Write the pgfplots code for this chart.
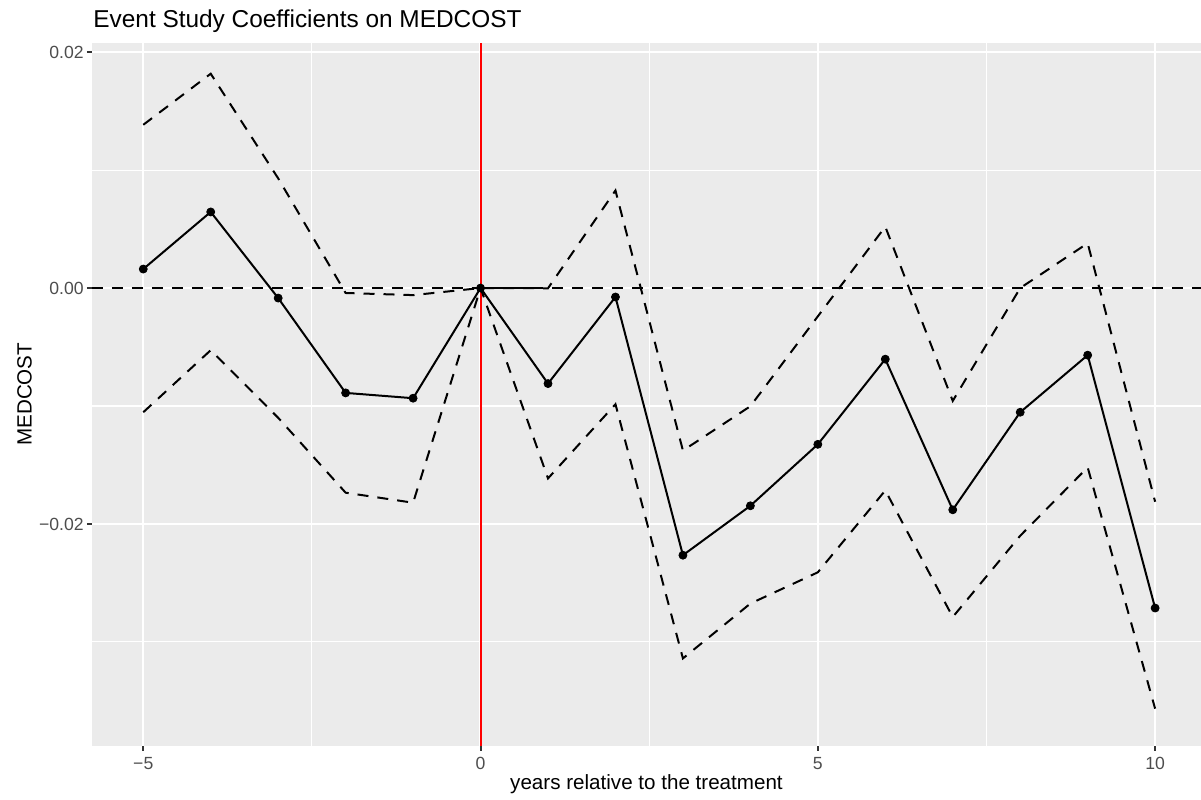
\documentclass[border=0pt]{standalone}
\usepackage{fontspec}
\setmainfont{Liberation Sans}
\usepackage{pgfplots}
\pgfplotsset{compat=1.18}
\usepackage{pgfplotstable}
\definecolor{panelgray}{HTML}{EBEBEB}
\definecolor{gray30}{HTML}{4D4D4D}
\definecolor{gray20}{HTML}{333333}
\pgfplotstableread{
x est up lo
-5 0.00161 0.01384 -0.01053
-4 0.00645 0.01817 -0.00527
-3 -0.00085 0.0093 -0.0110
-2 -0.00889 -0.00042 -0.01735
-1 -0.00934 -0.0006 -0.0182
0 0 0 0
1 -0.0081 -0.00002 -0.01614
2 -0.00076 0.00827 -0.00985
3 -0.02265 -0.01378 -0.0314
4 -0.01846 -0.01002 -0.02675
5 -0.01325 -0.0024 -0.0241
6 -0.00603 0.0052 -0.01716
7 -0.0188 -0.00957 -0.02789
8 -0.01053 0.0000 -0.0210
9 -0.00569 0.0038 -0.0152
10 -0.02713 -0.01812 -0.03566
}\esdata
\begin{document}
\begin{tikzpicture}
\begin{axis}[
  at={(0,0)}, anchor=south west,
  width=554.5pt, height=351.5pt, scale only axis,
  xmin=-5.76, xmax=10.68, ymin=-0.0388, ymax=0.0208,
  axis background/.style={fill=panelgray},
  axis line style={draw=none},
  xtick={-5,0,5,10}, xticklabels={−5,0,5,10},
  ytick={-0.02,0,0.02}, yticklabels={−0.02,0.00,0.02},
  minor xtick={-2.5,2.5,7.5}, minor ytick={-0.03,-0.01,0.01},
  grid=both,
  major grid style={white, line width=1.1pt},
  minor grid style={white, line width=0.55pt},
  tick align=outside, tick pos=left,
  major tick length=2.5pt, minor tick length=0pt,
  tick style={gray20, line width=1pt},
  scaled y ticks=false,
  ticklabel style={font=\fontsize{8.8}{10}\selectfont, text=gray30},
  xticklabel style={anchor=base, inner sep=0pt, yshift=-9.2pt},
  yticklabel style={anchor=east, inner sep=0pt, xshift=-1.5pt},
  title={Event Study Coefficients on MEDCOST},
  title style={at={(axis description cs:0.0009,1.0048)}, anchor=base west, inner sep=0pt, font=\fontsize{12.2}{14}\selectfont},
  xlabel={years relative to the treatment},
  xlabel style={at={(axis description cs:0.5,-0.063)}, anchor=base, inner sep=0pt, font=\fontsize{10.3}{12}\selectfont},
  ylabel={MEDCOST},
  ylabel style={at={(axis description cs:-0.0609,0.5)}, anchor=center, inner sep=0pt, font=\fontsize{10.3}{12}\selectfont},
  clip=true,
]
\addplot[black, line width=1pt, dash pattern=on 5.5pt off 4.5pt] coordinates {(-5.76,0) (10.68,0)};
\addplot[red, line width=1pt] coordinates {(0,-0.0388) (0,0.0208)};
\addplot[black, line width=1pt, dash pattern=on 5.5pt off 4.5pt] table[x=x,y=up]{\esdata};
\addplot[black, line width=1pt, dash pattern=on 5.5pt off 4.5pt] table[x=x,y=lo]{\esdata};
\addplot[black, line width=1pt] table[x=x,y=est]{\esdata};
\addplot[only marks, mark=*, mark size=2pt, black] table[x=x,y=est]{\esdata};
\end{axis}
\pgfresetboundingbox
\path[use as bounding box] (-46pt,-26.65pt) rectangle (554.5pt,372.85pt);
\end{tikzpicture}
\end{document}
